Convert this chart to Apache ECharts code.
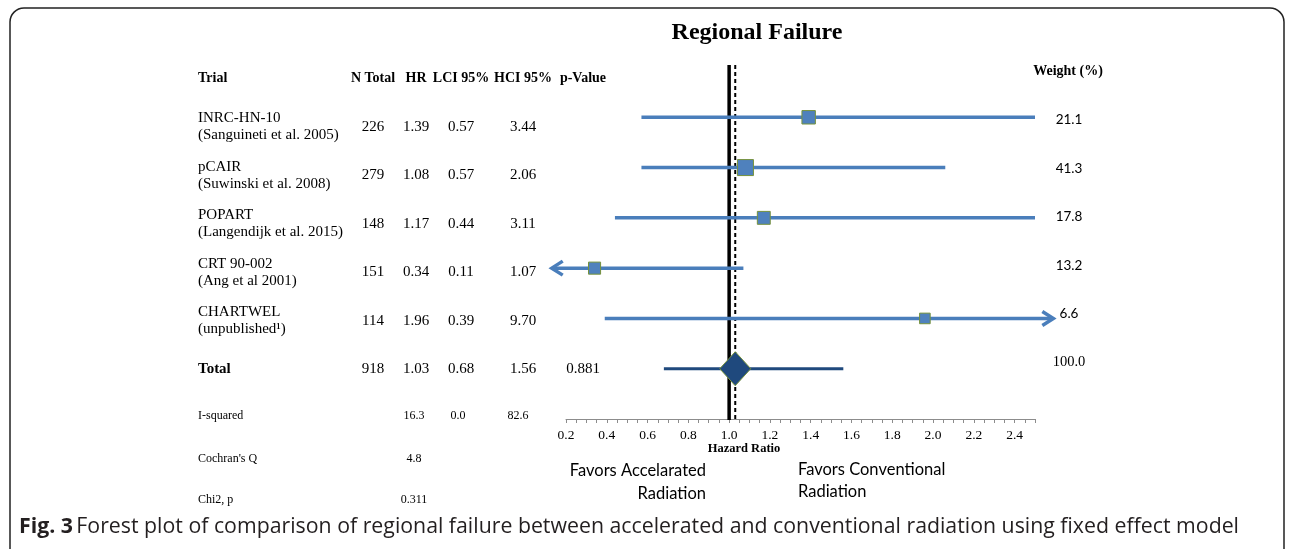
<!DOCTYPE html>
<html><head><meta charset="utf-8">
<script src="https://cdn.jsdelivr.net/npm/echarts@6.0.0/dist/echarts.min.js"></script>
<style>html,body{margin:0;padding:0;background:#fff}#c{width:1292px;height:549px}</style>
</head><body><div id="c"></div><script>
// ---------------- data ----------------
const trialNames = ['INRC-HN-10', 'pCAIR', 'POPART', 'CRT 90-002', 'CHARTWEL'];
const trialRefs = ['(Sanguineti et al. 2005)', '(Suwinski et al. 2008)', '(Langendijk et al. 2015)', '(Ang et al 2001)', '(unpublished\u00B9)'];
const nTotal = [226, 279, 148, 151, 114];
const hr = [1.39, 1.08, 1.17, 0.34, 1.96];
const lci = [0.57, 0.57, 0.44, 0.11, 0.39];
const hci = [3.44, 2.06, 3.11, 1.07, 9.70];
const weights = [21.1, 41.3, 17.8, 13.2, 6.6];
const totalN = 918, totalHR = 1.03, totalLCI = 0.68, totalHCI = 1.56, totalP = '0.881', totalWeight = '100.0';
const iSquared = ['16.3', '0.0', '82.6'];
const cochranQ = '4.8';
const chi2p = '0.311';
const headers = ['N Total', 'HR', 'LCI 95%', 'HCI 95%', 'p-Value'];
const refLines = [1.0, totalHR];
const X_MIN = 0.2, X_MAX = 2.5, X_INTERVAL = 0.2, X_MINOR = 0.05;

// ---------------- style / layout ----------------
const SERIF = '"Liberation Serif", "DejaVu Serif", serif';
const SANS = 'Lato, "Open Sans", sans-serif';
const CAP = '"Open Sans", Lato, sans-serif';
const CI_COLOR = '#4A7EBB', SQ_FILL = '#4F81BD', SQ_STROKE = '#76923C';
const TOT_COLOR = '#1F497D';
const ARROW_LOW = 0.2, ARROW_HIGH = 5;       // CI bounds beyond these get an arrow
const OVERHANG_L = 0.07, OVERHANG_R = 0.09;
const COLX = [373, 416, 461, 523, 583];
const ROW0 = 127, ROWSTEP = 48.4;
const WROW0 = 120, WX = 1069;

const chart = echarts.init(document.getElementById('c'), null, {renderer: 'canvas'});

function T(x, y, text, o) {
  o = o || {};
  return {type: 'text', x: x, y: y, silent: true, style: {
    text: text, fontFamily: o.ff || SERIF, fontSize: o.fs || 14, fontWeight: o.fw || 'normal',
    fill: o.fill || '#000', align: o.align || 'left', verticalAlign: 'middle'
  }};
}

const g = [];
g.push({type: 'rect', shape: {x: 10, y: 8, width: 1274, height: 570, r: 14}, style: {fill: 'none', stroke: '#222', lineWidth: 1.5}, silent: true});
g.push(T(757, 33, 'Regional Failure', {fs: 24, fw: 'bold', align: 'center'}));
g.push(T(198, 78, 'Trial', {fs: 14, fw: 'bold'}));
headers.forEach((h, i) => g.push(T(COLX[i], 78, h, {fs: 14, fw: 'bold', align: 'center'})));
g.push(T(1068, 71, 'Weight (%)', {fs: 14, fw: 'bold', align: 'center'}));
trialNames.forEach((n, i) => {
  const y = ROW0 + i * ROWSTEP;
  g.push(T(198, y - 8.5, n, {fs: 15}));
  g.push(T(198, y + 8.5, trialRefs[i], {fs: 15}));
  const vals = [String(nTotal[i]), hr[i].toFixed(2), lci[i].toFixed(2), hci[i].toFixed(2)];
  vals.forEach((v, j) => g.push(T(COLX[j], y, v, {fs: 15, align: 'center'})));
  g.push(T(WX, WROW0 + i * ROWSTEP, weights[i].toFixed(1), {ff: SANS, fs: 13.5, align: 'center'}));
});
const yT = ROW0 + 5 * ROWSTEP;
g.push(T(198, yT, 'Total', {fs: 15, fw: 'bold'}));
[String(totalN), totalHR.toFixed(2), totalLCI.toFixed(2), totalHCI.toFixed(2), totalP].forEach((v, j) =>
  g.push(T(COLX[j], yT, v, {fs: 15, align: 'center'})));
g.push(T(WX, WROW0 + 5 * ROWSTEP, totalWeight, {fs: 14.5, align: 'center'}));
// heterogeneity
g.push(T(198, 416, 'I-squared', {fs: 12}));
iSquared.forEach((v, j) => g.push(T([414, 458, 518][j], 416, v, {fs: 12, align: 'center'})));
g.push(T(198, 459, "Cochran's Q", {fs: 12}));
g.push(T(414, 459, cochranQ, {fs: 12, align: 'center'}));
g.push(T(198, 500, 'Chi2, p', {fs: 12}));
g.push(T(414, 500, chi2p, {fs: 12, align: 'center'}));
// axis title and favour labels
g.push(T(744, 449, 'Hazard Ratio', {fs: 12.5, fw: 'bold', align: 'center'}));
g.push(T(706, 471, 'Favors Accelarated', {ff: SANS, fs: 16.5, align: 'right'}));
g.push(T(706, 494, 'Radiation', {ff: SANS, fs: 16.5, align: 'right'}));
g.push(T(798, 470, 'Favors Conventional', {ff: SANS, fs: 16.5}));
g.push(T(798, 492, 'Radiation', {ff: SANS, fs: 16.5}));
// caption
g.push({type: 'text', x: 19, y: 527, silent: true, style: {
  text: '{b|Fig. 3} {r|Forest plot of comparison of regional failure between accelerated and conventional radiation using fixed effect model}',
  verticalAlign: 'middle', align: 'left',
  rich: {
    b: {fontFamily: CAP, fontSize: 21.3, fontWeight: 'bold', fill: '#231f20'},
    r: {fontFamily: CAP, fontSize: 21.3, fontWeight: 'normal', fill: '#231f20'}
  }
}});

function arrow(tip, dir, color) {
  return {type: 'polyline', shape: {points: [[tip[0] - dir * 11, tip[1] - 7], tip, [tip[0] - dir * 11, tip[1] + 7]]},
    style: {stroke: color, lineWidth: 3.5, fill: null}};
}

function renderStudy(params, api) {
  const lo = api.value(0), hi = api.value(1), est = api.value(2), row = api.value(3), w = api.value(4);
  const loArrow = lo < ARROW_LOW, hiArrow = hi > ARROW_HIGH;
  const x1 = loArrow ? X_MIN - OVERHANG_L : Math.max(lo, X_MIN);
  const x2 = hiArrow ? X_MAX + OVERHANG_R : Math.min(hi, X_MAX);
  const p1 = api.coord([x1, row]), p2 = api.coord([x2, row]), pc = api.coord([est, row]);
  const s = 7 + Math.sqrt(w) * 1.4;
  const ch = [{type: 'line', shape: {x1: p1[0] + (loArrow ? 2 : 0), y1: p1[1], x2: p2[0] - (hiArrow ? 2 : 0), y2: p2[1]},
    style: {stroke: CI_COLOR, lineWidth: 3.5}}];
  if (loArrow) ch.push(arrow(p1, -1, CI_COLOR));
  if (hiArrow) ch.push(arrow(p2, 1, CI_COLOR));
  ch.push({type: 'rect', shape: {x: pc[0] - s / 2, y: pc[1] - s / 2, width: s, height: s},
    style: {fill: SQ_FILL, stroke: SQ_STROKE, lineWidth: 1}});
  return {type: 'group', children: ch};
}

function renderTotal(params, api) {
  const lo = api.value(0), hi = api.value(1), est = api.value(2), row = api.value(3);
  const p1 = api.coord([lo, row]), p2 = api.coord([hi, row]), pc = api.coord([est, row]);
  const hw = 15.5, hh = 17;
  return {type: 'group', children: [
    {type: 'line', shape: {x1: p1[0], y1: p1[1], x2: p2[0], y2: p2[1]}, style: {stroke: TOT_COLOR, lineWidth: 3}},
    {type: 'polygon', shape: {points: [[pc[0] - hw, pc[1]], [pc[0], pc[1] - hh], [pc[0] + hw, pc[1]], [pc[0], pc[1] + hh]]},
      style: {fill: TOT_COLOR, stroke: SQ_STROKE, lineWidth: 1}}
  ]};
}

function renderRef(params, api) {
  const x = api.value(0), idx = params.dataIndex;
  const cs = params.coordSys;
  const px = api.coord([x, 0])[0];
  return {type: 'line', shape: {x1: px, y1: cs.y - 2, x2: px, y2: cs.y + cs.height + 1},
    style: idx === 0 ? {stroke: '#000', lineWidth: 3.5} : {stroke: '#000', lineWidth: 2, lineDash: [4, 3]}};
}

const studyData = hr.map((v, i) => [lci[i], hci[i], v, i, weights[i]]);

chart.setOption({
  backgroundColor: '#fff',
  animation: false,
  grid: {left: 566, right: 257, top: 67, bottom: 130, containLabel: false},
  xAxis: [
    {type: 'value', min: X_MIN, max: X_MAX, interval: X_INTERVAL, position: 'bottom',
     axisLine: {show: true, onZero: false, lineStyle: {color: '#8c8c8c', width: 1}}, axisTick: {show: false},
     splitLine: {show: false},
     axisLabel: {showMaxLabel: false, formatter: v => v.toFixed(1), fontFamily: SERIF, fontSize: 13.5, color: '#000', margin: 9}},
    {type: 'value', min: X_MIN, max: X_MAX, interval: X_MINOR, position: 'bottom',
     axisLine: {show: false, onZero: false}, axisTick: {show: true, length: 4, lineStyle: {color: '#8c8c8c'}},
     axisLabel: {show: false}, splitLine: {show: false}}
  ],
  yAxis: {type: 'value', min: -1, max: 6, inverse: true, show: false},
  series: [
    {type: 'custom', xAxisIndex: 0, yAxisIndex: 0, clip: false, z: 1, silent: true, renderItem: renderRef,
     data: refLines.map(v => [v, 0])},
    {type: 'custom', xAxisIndex: 0, yAxisIndex: 0, clip: false, z: 3, silent: true, renderItem: renderStudy, data: studyData},
    {type: 'custom', xAxisIndex: 0, yAxisIndex: 0, clip: false, z: 4, silent: true, renderItem: renderTotal,
     data: [[totalLCI, totalHCI, totalHR, 5]]}
  ],
  graphic: g
});
</script></body></html>
